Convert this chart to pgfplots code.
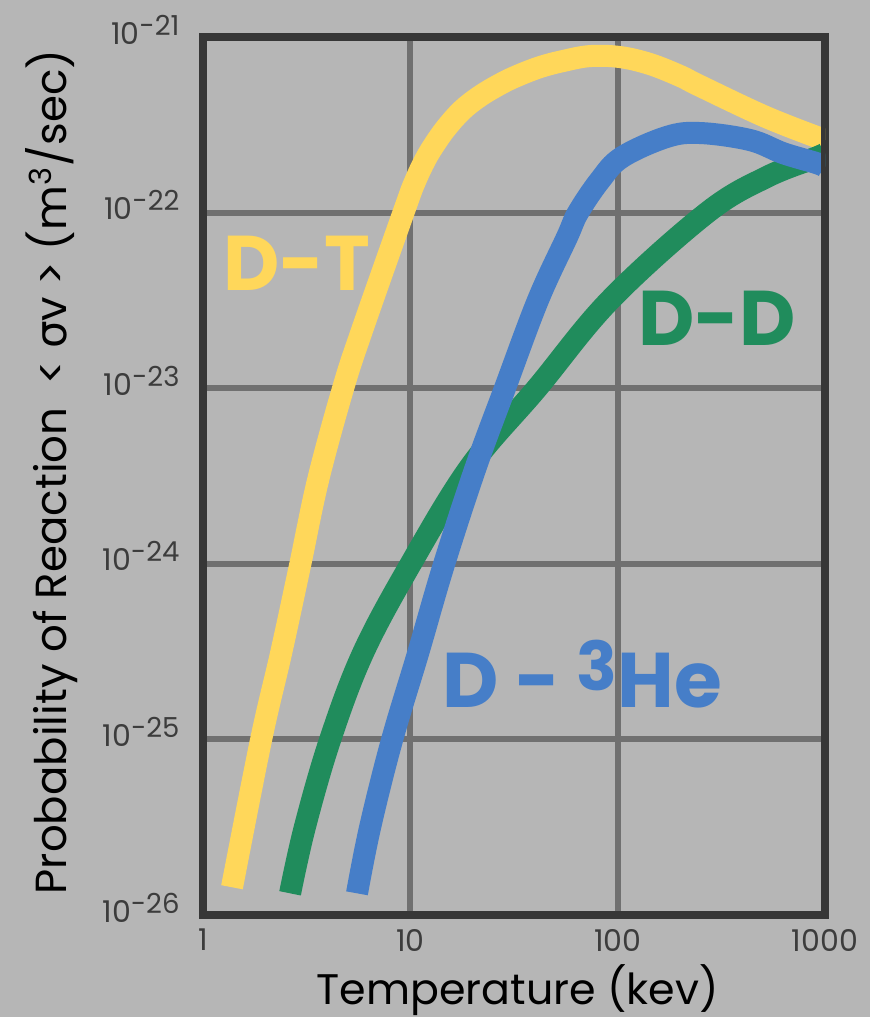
\documentclass[border=0pt]{standalone}
\usepackage{fontspec}
\setmainfont{Poppins}
\newfontfamily\dejavu{DejaVu Sans}
\usepackage{pgfplots}
\pgfplotsset{compat=1.18}
\definecolor{bg}{RGB}{182,182,182}
\definecolor{gridc}{RGB}{112,112,112}
\definecolor{axc}{RGB}{55,55,55}
\definecolor{tickc}{RGB}{60,60,60}
\definecolor{dtc}{RGB}{255,215,90}
\definecolor{ddc}{RGB}{32,140,92}
\definecolor{dhc}{RGB}{70,126,200}
\newcommand\ex[1]{\raisebox{0.3em}{\fontsize{11}{11}\selectfont -#1}}
\begin{document}
\begin{tikzpicture}[x=0.4pt,y=0.4pt]
\fill[bg] (-203,-102) rectangle (667,915);
\useasboundingbox (-203,-102) rectangle (667,915);
\begin{axis}[
  at={(0,0)}, anchor=south west, scale only axis,
  width=248.8pt, height=351.2pt,
  xmode=log, ymode=log,
  xmin=1, xmax=1000, ymin=1e-26, ymax=1e-21,
  xtick={1,10,100,1000}, xticklabels={1,10,100,1000},
  ytick={1e-26,1e-25,1e-24,1e-23,1e-22,1e-21},
  yticklabels={10\ex{26},10\ex{25},10\ex{24},10\ex{23},10\ex{22},10\ex{21}},
  xminorticks=false, yminorticks=false,
  major tick length=0pt,
  grid=major,
  major grid style={gridc, line width=2.4pt},
  axis line style={axc, line width=3.2pt},
  tick label style={font=\fontsize{12}{12}\selectfont, text=tickc, inner sep=0pt},
  xticklabel style={anchor=center, yshift=-10pt},
  yticklabel style={anchor=east, xshift=-9.2pt, yshift=3pt},
  xlabel={Temperature (kev)},
  ylabel={Probability of Reaction \ < {\dejavu σ}v > (m\textsuperscript{3}/sec)},
  label style={text=black},
  xlabel style={font=\fontsize{17.1}{17.1}\selectfont, at={(axis description cs:0.506,-0.0854)}, anchor=center},
  ylabel style={font=\fontsize{17.4}{17.4}\selectfont, at={(axis description cs:-0.2428,0.5046)}, anchor=center},
  every axis plot/.append style={line width=8.8pt, smooth, tension=0.6},
]
% D-T
\addplot[dtc] coordinates {
 (1.38,1.44e-26) (1.905,9.93e-26) (2.38,3.10e-25) (2.94,9.84e-25) (3.59,3.0e-24)
 (4.74,1.0e-23) (5.85,2.14e-23) (9.43,1.06e-22) (10.5,1.49e-22) (11.8,2.0e-22)
 (13.2,2.49e-22) (15.0,3.07e-22) (17.8,3.84e-22) (21.7,4.61e-22) (27.1,5.39e-22)
 (32.7,6.0e-22) (42.2,6.74e-22) (54.5,7.3e-22) (73.6,7.79e-22) (102.7,7.69e-22)
 (143,7.02e-22) (200,6.0e-22) (250,5.26e-22) (520,3.50e-22) (1000,2.59e-22)
};
% D-D
\addplot[ddc] coordinates {
 (2.63,1.33e-26) (3.10,3.17e-26) (4.10,9.93e-26) (5.91,3.10e-25) (9.97,9.84e-25)
 (19.4,3.56e-24) (40.8,1.0e-23) (91.9,3.18e-23) (270,1.0e-22) (526,1.6e-22)
 (916,2.07e-22) (1000,2.18e-22)
};
% D-3He
\addplot[dhc] coordinates {
 (5.53,1.33e-26) (6.40,3.17e-26) (8.16,9.93e-26) (10.9,3.10e-25) (14.5,9.84e-25)
 (20.7,3.56e-24) (28.6,1.0e-23) (41.3,3.18e-23) (57,7.26e-23) (64.4,1.0e-22)
 (82.2,1.53e-22) (105,2.07e-22) (173,2.7e-22) (250,2.84e-22) (435,2.59e-22)
 (629,2.18e-22) (916,1.91e-22) (1000,1.82e-22)
};
\draw[axc, line width=3.2pt] (rel axis cs:0,0) rectangle (rel axis cs:1,1);
\node[anchor=base west, text=dtc, font=\fontsize{31}{31}\selectfont\bfseries, inner sep=0pt]
  at (axis cs:1.249,3.62e-23) {D-T};
\node[anchor=base west, text=ddc, font=\fontsize{31}{31}\selectfont\bfseries, inner sep=0pt]
  at (axis cs:125.4,1.76e-23) {D-D};
\node[anchor=base west, text=dhc, font=\fontsize{31}{31}\selectfont\bfseries, inner sep=0pt]
  at (axis cs:14.2,1.53e-25) {D - \raisebox{6.8pt}{\fontsize{27}{27}\selectfont 3}He};
\end{axis}
\end{tikzpicture}
\end{document}
